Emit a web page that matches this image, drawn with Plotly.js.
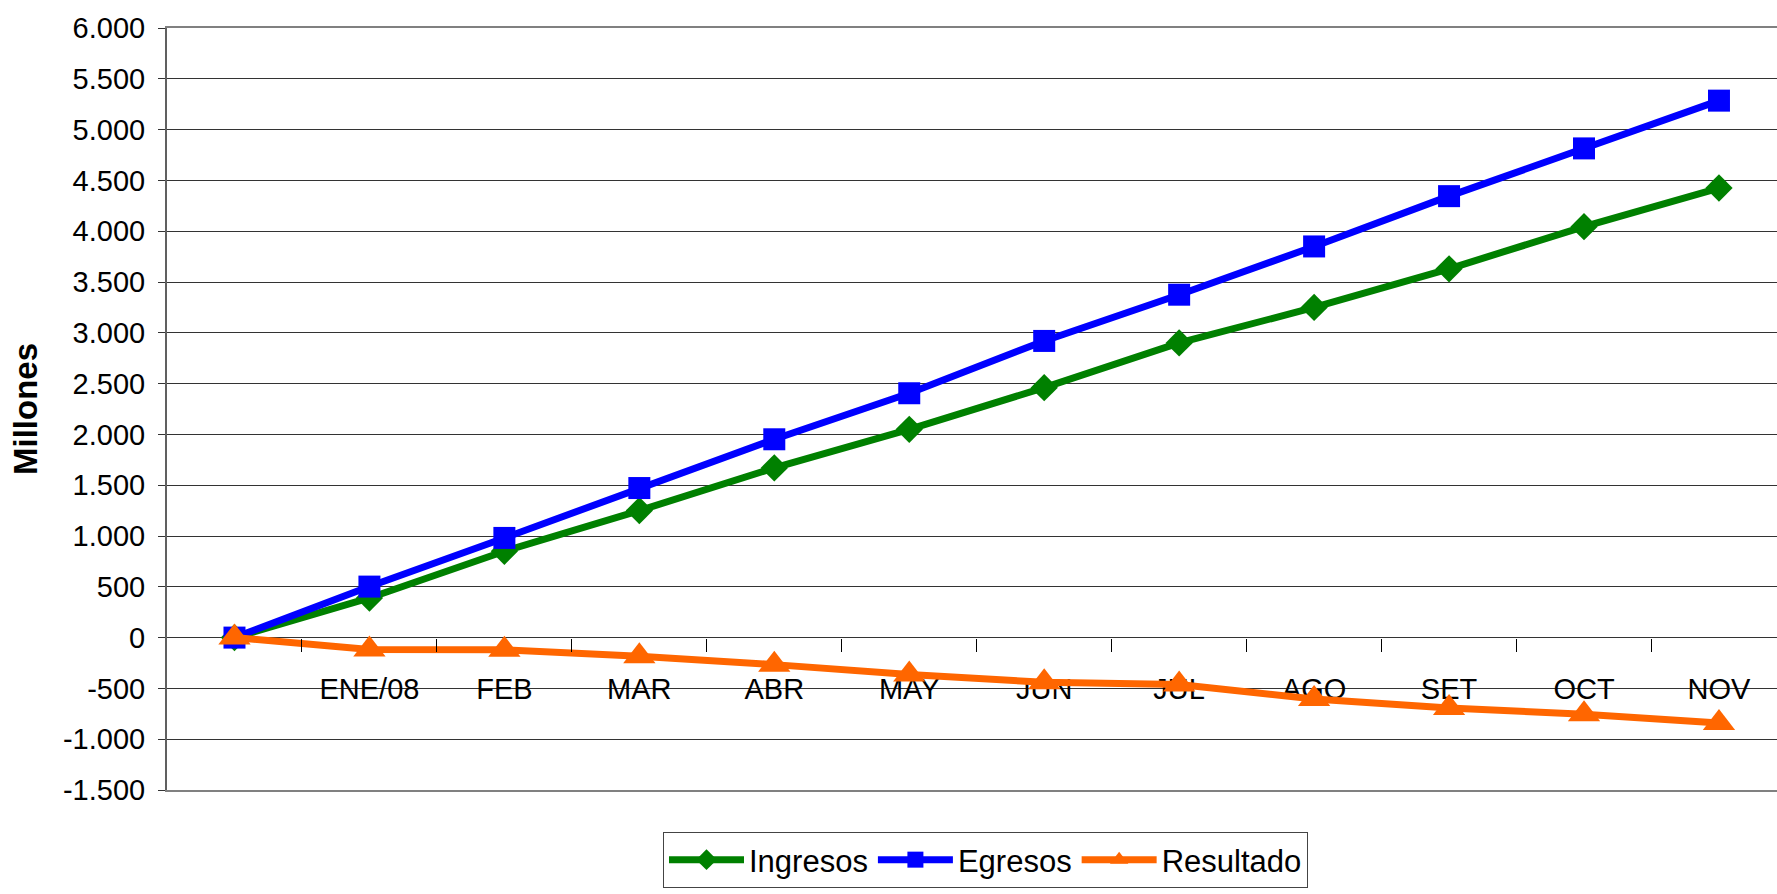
<!DOCTYPE html>
<html>
<head>
<meta charset="utf-8">
<script src="https://cdn.plot.ly/plotly-3.0.1.min.js"></script>
<style>
  html, body { margin: 0; padding: 0; background: #ffffff; }
  #chart { width: 1777px; height: 894px; }
</style>
</head>
<body>
<div id="chart"></div>
<script>
// Category labels (first point is the unlabeled starting point)
const months = ['', 'ENE/08', 'FEB', 'MAR', 'ABR', 'MAY', 'JUN', 'JUL', 'AGO', 'SET', 'OCT', 'NOV'];

// Series values (millions, cumulative)
const ingresos  = [0, 390, 850, 1250, 1670, 2050, 2460, 2900, 3250, 3630, 4045, 4425];
const egresos   = [0, 502, 981, 1472, 1952, 2405, 2920, 3375, 3850, 4345, 4815, 5285];
const resultado = [0, -118, -120, -184, -266, -364, -440, -462, -605, -692, -755, -840];

// Y axis ticks
const yTickVals   = [-1500, -1000, -500, 0, 500, 1000, 1500, 2000, 2500, 3000, 3500, 4000, 4500, 5000, 5500, 6000];
const yTickLabels = ['-1.500', '-1.000', '-500', '0', '500', '1.000', '1.500', '2.000', '2.500', '3.000', '3.500', '4.000', '4.500', '5.000', '5.500', '6.000'];

const idx = months.map((m, i) => i);
const boundaries = months.slice(1).map((m, i) => i + 0.5);
const xRange = [-0.5, 11.43];
const FONT = 'Liberation Sans, Arial, sans-serif';

const traces = [
  {
    name: 'Ingresos', x: idx, y: ingresos, type: 'scatter', mode: 'lines+markers',
    xaxis: 'x', yaxis: 'y',
    line: { color: '#008000', width: 7 },
    marker: { symbol: 'diamond', size: 21, color: '#008000' }
  },
  {
    name: 'Egresos', x: idx, y: egresos, type: 'scatter', mode: 'lines+markers',
    xaxis: 'x2', yaxis: 'y',
    line: { color: '#0000FF', width: 7 },
    marker: { symbol: 'square', size: 22, color: '#0000FF' }
  },
  {
    name: 'Resultado', x: idx, y: resultado, type: 'scatter', mode: 'lines+markers',
    xaxis: 'x3', yaxis: 'y',
    line: { color: '#FF6600', width: 7 },
    marker: { symbol: 'triangle-up', size: 28, color: '#FF6600' }
  }
];

const layout = {
  width: 1777, height: 894,
  margin: { l: 167, r: 0, t: 28, b: 104 },
  paper_bgcolor: '#ffffff', plot_bgcolor: '#ffffff',
  font: { family: FONT, color: '#000000' },
  showlegend: true,
  xaxis: {
    type: 'linear', range: xRange, fixedrange: true,
    showgrid: false, zeroline: false,
    showline: true, mirror: true, linecolor: '#808080', linewidth: 2,
    ticks: '', showticklabels: false
  },
  xaxis2: {
    type: 'linear', range: xRange, overlaying: 'x', anchor: 'free', position: 0.2,
    fixedrange: true, showgrid: false, zeroline: false, showline: false,
    tickmode: 'array', tickvals: boundaries, ticks: 'outside', ticklen: 13,
    tickcolor: '#000000', tickwidth: 1, showticklabels: false
  },
  xaxis3: {
    type: 'linear', range: xRange, overlaying: 'x', anchor: 'free', position: 0.2,
    fixedrange: true, showgrid: false, zeroline: false, showline: false, layer: 'below traces',
    tickmode: 'array', tickvals: idx, ticktext: months, ticks: '',
    ticklabelstandoff: 31,
    tickfont: { family: FONT, size: 29, color: '#000000' }
  },
  yaxis: {
    range: [-1500, 6000], fixedrange: true,
    tickmode: 'array', tickvals: yTickVals, ticktext: yTickLabels,
    showgrid: true, gridcolor: '#333333', gridwidth: 1,
    zeroline: false,
    showline: true, linecolor: '#606060', linewidth: 2,
    ticks: 'outside', ticklen: 7, tickcolor: '#333333', tickwidth: 1,
    ticklabelstandoff: 7,
    tickfont: { family: FONT, size: 29, color: '#000000' },
    title: { text: '<b>Millones</b>', standoff: 15, font: { family: FONT, size: 33, color: '#000000' } }
  },
  legend: {
    orientation: 'h',
    xref: 'container', yref: 'container',
    x: 663 / 1777, y: 1 - 832 / 894, xanchor: 'left', yanchor: 'top',
    bgcolor: '#ffffff', bordercolor: '#444444', borderwidth: 1,
    itemwidth: 75,
    font: { family: FONT, size: 31, color: '#000000' }
  }
};

Plotly.newPlot('chart', traces, layout, { displayModeBar: false, staticPlot: true });
</script>
</body>
</html>
